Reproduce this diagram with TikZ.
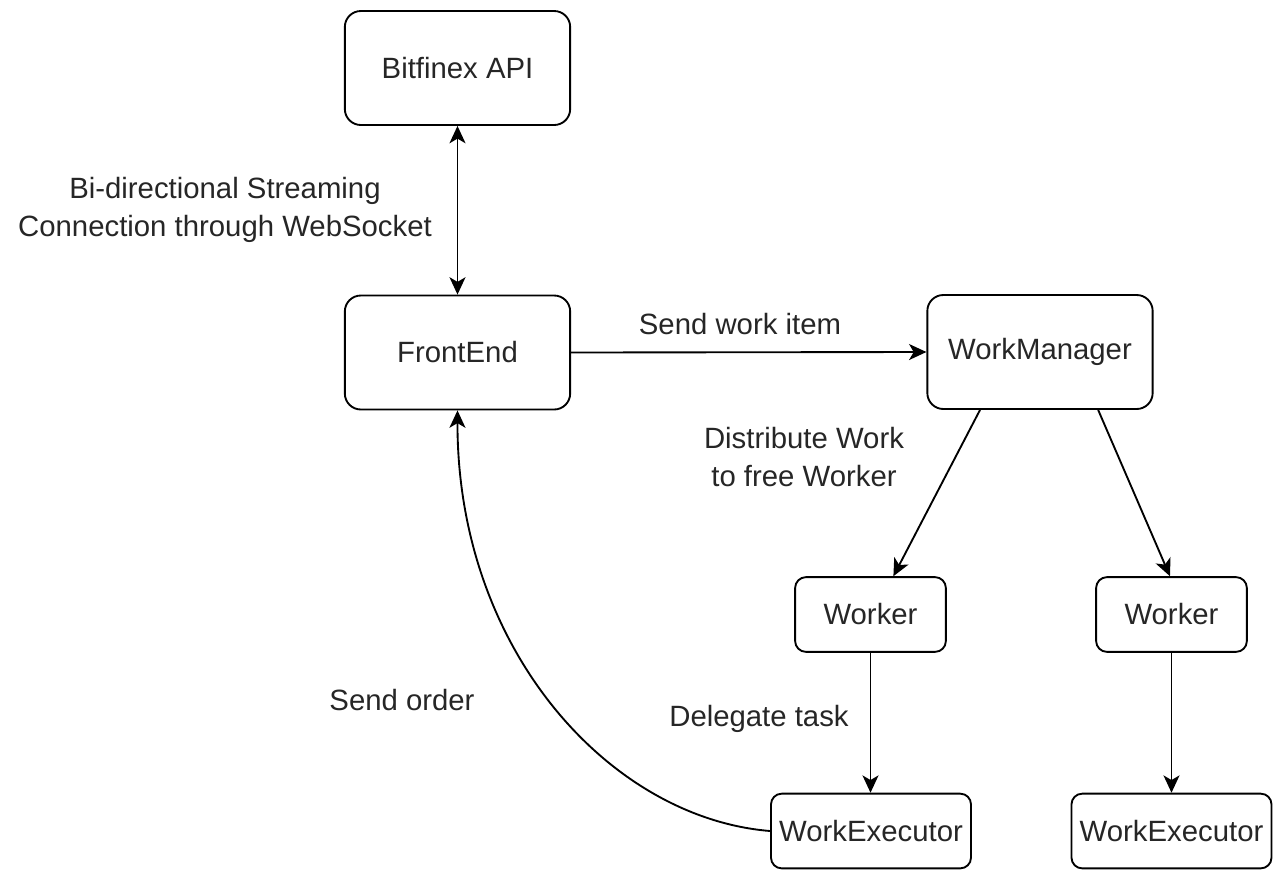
\documentclass[tikz,border=0pt]{standalone}
\usepackage{fontspec}
\setmainfont{Liberation Sans}
\usetikzlibrary{arrows.meta,calc}

\tikzset{
  box/.style={draw=black, line width=1.4pt, rounded corners=12pt, align=center,
    inner sep=0pt, font=\fontsize{22pt}{26pt}\selectfont, text=black!85},
  bigbox/.style={box, minimum width=169pt, minimum height=85.5pt},
  smallbox/.style={box, rounded corners=8pt, minimum width=113pt, minimum height=56pt},
  execbox/.style={box, rounded corners=8pt, minimum width=150pt, minimum height=56pt},
  lbl/.style={align=center, inner sep=0pt, text=black!85,
    font=\fontsize{22pt}{28.5pt}\selectfont},
  tip/.style={Stealth[length=13pt, width=12pt, inset=3.5pt]},
  arr/.style={line width=1.4pt, -{Stealth[length=13pt, width=12pt, inset=3.5pt]}},
  biarr/.style={line width=1.4pt, {Stealth[length=13pt, width=12pt, inset=3.5pt]}-{Stealth[length=13pt, width=12pt, inset=3.5pt]}},
}

\begin{document}
\begin{tikzpicture}[x=0.75pt, y=-0.75pt]
  \useasboundingbox (0,0) rectangle (1283,872);

  % components
  \node[bigbox] (api) at (457.5, 68) {Bitfinex API};
  \node[bigbox] (fe) at (457.5, 352.5) {FrontEnd};
  \node[bigbox] (wm) at (1040, 352) {WorkManager};
  \node[smallbox] (w1) at (870.5, 614.5) {Worker};
  \node[smallbox] (w2) at (1171.5, 614.5) {Worker};
  \node[execbox] (e1) at (871, 831) {WorkExecutor};
  \node[execbox] (e2) at (1171.5, 831) {WorkExecutor};

  % edge labels
  \node[lbl] (lws) at (225, 210) {Bi-directional Streaming\\Connection through WebSocket};
  \node[lbl] (lsend) at (740, 324) {Send work item};
  \node[lbl] (ldist) at (804, 457) {Distribute Work\\to free Worker};
  \node[lbl] (lorder) at (402, 700) {Send order};
  \node[lbl] (ldel) at (759, 719) {Delegate task};

  % connectors
  \draw[biarr] (api.south) -- (fe.north);
  \draw[arr] (fe.east) -- (wm.west);
  \draw[arr] ($(wm.south west)!0.236!(wm.south east)$) -- ($(w1.north west)!0.65!(w1.north east)$);
  \draw[arr] ($(wm.south west)!0.756!(wm.south east)$) -- ($(w2.north west)!0.49!(w2.north east)$);
  \draw[arr] (w1.south) -- (w1.south |- e1.north);
  \draw[arr] (w2.south) -- (w2.south |- e2.north);
  \draw[arr] (e1.west) .. controls (610,818) and (457,650) .. (fe.south);
\end{tikzpicture}
\end{document}
